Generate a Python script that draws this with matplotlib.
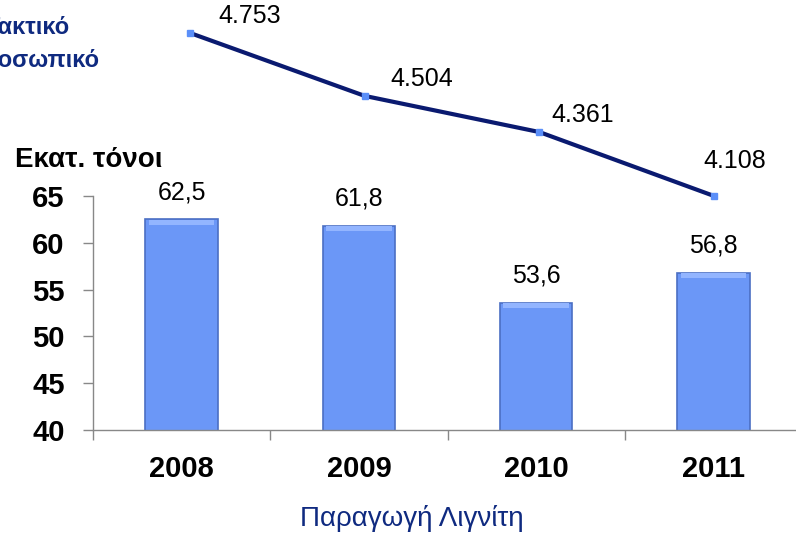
import numpy as np
import matplotlib
matplotlib.use("Agg")
from matplotlib import pyplot as plt

# data
years = ["2008", "2009", "2010", "2011"]
lignite = [62.5, 61.8, 53.6, 56.8]          # Εκατ. τόνοι
staff = [4753, 4504, 4361, 4108]            # προσωπικό
lignite_labels = ["62,5", "61,8", "53,6", "56,8"]
staff_labels = ["4.753", "4.504", "4.361", "4.108"]
yticks = [40, 45, 50, 55, 60, 65]

# label offsets (points) for the staff line
staff_offsets = [(43, 12), (41, 12), (31, 12), (15, 25)]

plt.rcParams['font.family'] = ['Liberation Sans', 'DejaVu Sans']

W, H = 796, 536
fig = plt.figure(figsize=(W / 100, H / 100), dpi=100)

navy = "#0f2a80"
bar_col = "#6b97f7"
bar_edge = "#4b6fc4"

# bars
ax = fig.add_axes([93 / W, 1 - 430 / H, 709 / W, 234 / H])
x = np.arange(len(years))
ax.bar(x, lignite, width=0.41, color=bar_col, edgecolor=bar_edge, linewidth=1.2, zorder=2)
# soft bevel on top of each bar
ax.bar(x, [0.5] * len(years), bottom=np.array(lignite) - 0.55, width=0.37,
       color="#93b5ff", linewidth=0, zorder=3)
for xi, v, lab in zip(x, lignite, lignite_labels):
    ax.annotate(lab, (xi, v), xytext=(0, 19.5), textcoords="offset points",
                ha="center", va="center", fontsize=18, color="black")

ax.set_xlim(-0.5, 3.5)
ax.set_ylim(40, 65)
ax.set_yticks(yticks)
ax.set_yticklabels([str(t) for t in yticks], fontsize=21, fontweight="bold")
ax.set_xticks(x)
ax.set_xticklabels(years, fontsize=21, fontweight="bold")
ax.set_xticks(np.arange(-0.5, 4, 1), minor=True)
ax.tick_params(axis="x", which="major", length=0, pad=18)
ax.tick_params(axis="x", which="minor", length=7, width=1, color="#888888", direction="out")
ax.tick_params(axis="y", length=7.5, width=1, color="#888888", direction="out", pad=13)
for s in ["top", "right"]:
    ax.spines[s].set_visible(False)
for s in ["left", "bottom"]:
    ax.spines[s].set_color("#888888")
    ax.spines[s].set_linewidth(1)
ax.patch.set_alpha(0)

# staff line on its own invisible axes
ax2 = fig.add_axes([102.7 / W, 1 - 223.3 / H, 698.7 / W, 202.2 / H])
ax2.plot(x, staff, color="#0a1a70", linewidth=3, zorder=2, clip_on=False)
ax2.plot(x, staff, linestyle="none", marker="s", markersize=5, color="#5b8ff9",
         zorder=3, clip_on=False)
for xi, v, lab, off in zip(x, staff, staff_labels, staff_offsets):
    ax2.annotate(lab, (xi, v), xytext=off, textcoords="offset points",
                 ha="center", va="center", fontsize=18, color="black")
ax2.set_xlim(-0.5, 3.5)
ax2.set_ylim(4000, 4800)
ax2.axis("off")

# texts
fig.text(15 / W, 1 - 160 / H, "Εκατ. τόνοι", fontsize=20, fontweight="bold",
         ha="left", va="center")
fig.text(412 / W, 1 - 518 / H, "Παραγωγή Λιγνίτη", fontsize=20, color=navy,
         ha="center", va="center")
# the reference cuts these two lines at the left edge
fig.text(70 / W, 1 - 28 / H, "Τακτικό", fontsize=17, fontweight="bold",
         color=navy, ha="right", va="center")
fig.text(100 / W, 1 - 60 / H, "προσωπικό", fontsize=17, fontweight="bold",
         color=navy, ha="right", va="center")

fig.savefig("out.png", dpi=100)
